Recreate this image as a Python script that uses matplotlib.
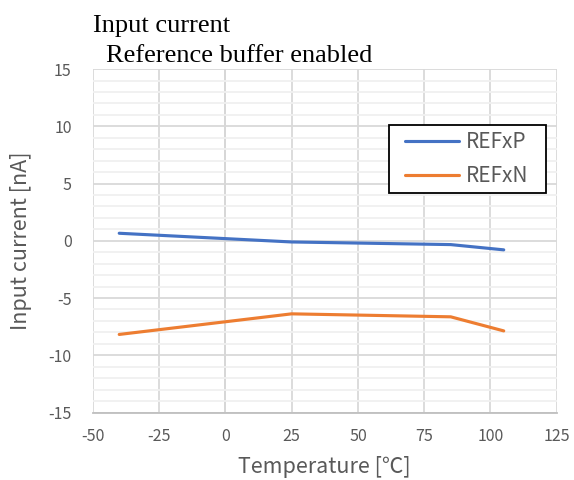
import matplotlib
matplotlib.use("Agg")
import matplotlib.pyplot as plt
import matplotlib.patches as patches
from matplotlib.ticker import MultipleLocator

# data
temps = [-40, 25, 85, 105]
refxp = [0.66, -0.10, -0.33, -0.79]
refxn = [-8.18, -6.38, -6.64, -7.87]

x_ticks = [-50, -25, 0, 25, 50, 75, 100, 125]
y_ticks = [-15, -10, -5, 0, 5, 10, 15]

plt.rcParams['axes.unicode_minus'] = False
font = ['Noto Sans CJK JP', 'DejaVu Sans']
gray = '#595959'

fig = plt.figure(figsize=(5.74, 4.8), dpi=100)
ax = fig.add_axes([0.1615, 0.1406, 0.970 - 0.1615, 0.856 - 0.1406])

# grid: minor every 1 nA, major every 5
ax.yaxis.set_minor_locator(MultipleLocator(1))
ax.grid(which='minor', axis='y', color='#f0f0f0', linewidth=1.3, zorder=0)
ax.grid(which='major', axis='both', color='#d9d9d9', linewidth=1.3, zorder=0)
ax.axvline(0, color='#bfbfbf', linewidth=1.3, zorder=1)

ax.plot(temps, refxp, color='#4472C4', linewidth=2.25, label='REFxP', zorder=3,
        solid_capstyle='round')
ax.plot(temps, refxn, color='#ED7D31', linewidth=2.25, label='REFxN', zorder=3,
        solid_capstyle='round')

ax.set_xlim(-50, 125)
ax.set_ylim(-15, 15)
ax.set_xticks(x_ticks)
ax.set_yticks(y_ticks)
ax.tick_params(which='both', length=0, labelsize=11.5, labelcolor=gray)
ax.tick_params(axis='x', pad=11)
ax.tick_params(axis='y', pad=15)
for lab in ax.get_xticklabels() + ax.get_yticklabels():
    lab.set_family(font)

for side in ['top', 'right', 'left']:
    ax.spines[side].set_visible(False)
ax.spines['bottom'].set_color('#bfbfbf')
ax.spines['bottom'].set_linewidth(1.3)

ax.set_xlabel('Temperature [℃]', fontsize=15.5, color=gray, family=font)
ax.set_ylabel('Input current [nA]', fontsize=15.5, color=gray, family=font)
ax.xaxis.set_label_coords(0.5, -0.128)
ax.yaxis.set_label_coords(-0.13, 0.5)

# legend box drawn as a frame, entries placed inside it
frame = patches.Rectangle((0.6386, 0.639), 0.977 - 0.6386, 0.837 - 0.639,
                          transform=ax.transAxes, facecolor='white',
                          edgecolor='black', linewidth=1.3, zorder=4)
ax.add_patch(frame)
leg = ax.legend(loc='center left', bbox_to_anchor=(0.673, 0.738), frameon=False,
                handlelength=2.6, handletextpad=0.3, borderpad=0, borderaxespad=0,
                labelspacing=0.6, prop={'family': font, 'size': 15})
leg.set_zorder(5)
for t in leg.get_texts():
    t.set_color(gray)

fig.text(93 / 574, 1 - 31.7 / 480, 'Input current', family='Liberation Serif',
         fontsize=19, ha='left', va='baseline')
fig.text(106.5 / 574, 1 - 61.7 / 480, 'Reference buffer enabled',
         family='Liberation Serif', fontsize=19, ha='left', va='baseline')

fig.savefig('out.png', dpi=100)
